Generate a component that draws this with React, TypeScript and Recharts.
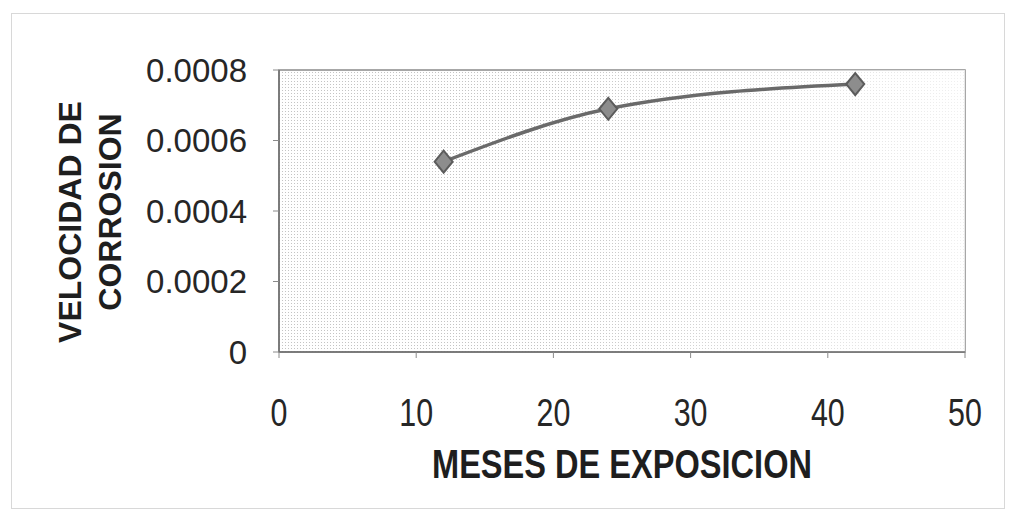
import { LineChart, Line, XAxis, YAxis, ReferenceArea, Label } from "recharts"

const months = [12, 24, 42]
const rates = [0.00054, 0.00069, 0.00076]
const xTicks = [0, 10, 20, 30, 40, 50]
const yTicks = [0, 0.0002, 0.0004, 0.0006, 0.0008]

const data = months.map((m, i) => ({ mes: m, vel: rates[i] }))

const arial = '"Liberation Sans", Arial, sans-serif'

function Diamond(props: any) {
  const { cx, cy } = props
  if (cx == null || cy == null) return null
  return (
    <polygon
      points={`${cx},${cy - 11} ${cx + 9},${cy} ${cx},${cy + 11} ${cx - 9},${cy}`}
      fill="#8d8d8d"
      stroke="#5c5c5c"
      strokeWidth={2}
    />
  )
}

// narrow (Arial Narrow look) tick labels for the x axis
function NarrowTick(props: any) {
  const { x, y, payload } = props
  return (
    <g transform={`translate(${x},${y})`}>
      <text transform="scale(0.78,1)" textAnchor="middle" dy={30} style={{ fontFamily: arial, fontSize: 39, fill: "#262626" }}>
        {payload.value}
      </text>
    </g>
  )
}

function XTitle(props: any) {
  const vb = props.viewBox || {}
  const cx = (vb.x ?? 279) + (vb.width ?? 686) / 2
  return (
    <text
      x={cx}
      y={478}
      textAnchor="middle"
      textLength={380}
      lengthAdjust="spacingAndGlyphs"
      style={{ fontFamily: arial, fontWeight: 700, fontSize: 41, fill: "#1e1e1e" }}
    >
      MESES DE EXPOSICION
    </text>
  )
}

function YTitle(props: any) {
  const vb = props.viewBox || {}
  const cy = (vb.y ?? 70) + (vb.height ?? 282) / 2 + 5
  const style = { fontFamily: arial, fontWeight: 700, fontSize: 32, fill: "#1e1e1e" }
  return (
    <g>
      <text x={81} y={cy + 6} transform={`rotate(-90 81 ${cy + 6})`} textAnchor="middle" style={style}>
        VELOCIDAD DE
      </text>
      <text x={121} y={cy - 4} transform={`rotate(-90 121 ${cy - 4})`} textAnchor="middle" style={style}>
        CORROSION
      </text>
    </g>
  )
}

export default function App() {
  return (
    <div style={{ position: "absolute", left: 0, top: 0, width: 1012, height: 522, background: "#fff" }}>
      <div style={{ position: "absolute", left: 11, top: 13, width: 992, height: 494, border: "1px solid #d8d8d8" }} />
      <LineChart width={1012} height={522} data={data} margin={{ top: 70, right: 47, bottom: 0, left: 0 }}>
        <defs>
          <pattern id="dots" width="3" height="3" patternUnits="userSpaceOnUse">
            <rect width="3" height="3" fill="#ffffff" />
            <rect width="1" height="1" fill="#c4c4c4" />
          </pattern>
          <linearGradient id="fade" x1="0" y1="0" x2="1" y2="0">
            <stop offset="0.4" stopColor="#ffffff" stopOpacity={0} />
            <stop offset="1" stopColor="#ffffff" stopOpacity={0.75} />
          </linearGradient>
        </defs>
        <ReferenceArea x1={0} x2={50} y1={0} y2={0.0008} fill="url(#dots)" fillOpacity={1} stroke="#8a8a8a" strokeWidth={1.5} />
        <ReferenceArea x1={0} x2={50} y1={0} y2={0.0008} fill="url(#fade)" fillOpacity={1} stroke="none" />
        <XAxis
          type="number"
          dataKey="mes"
          domain={[0, 50]}
          ticks={xTicks}
          interval={0}
          height={170}
          tickSize={6}
          tickMargin={38}
          axisLine={{ stroke: "#6e6e6e", strokeWidth: 1.5 }}
          tickLine={{ stroke: "#8a8a8a" }}
          tick={<NarrowTick />}
        >
          <Label content={<XTitle />} />
        </XAxis>
        <YAxis
          type="number"
          domain={[0, 0.0008]}
          ticks={yTicks}
          interval={0}
          width={279}
          tickSize={6}
          tickMargin={26}
          axisLine={{ stroke: "#6e6e6e", strokeWidth: 1.5 }}
          tickLine={{ stroke: "#8a8a8a" }}
          tick={{ fontFamily: arial, fontSize: 33, fill: "#262626" }}
          tickFormatter={(v: number) => (v === 0 ? "0" : v.toFixed(4))}
          label={<YTitle />}
        />
        <Line
          type="monotone"
          dataKey="vel"
          stroke="#6a6a6a"
          strokeWidth={3.5}
          dot={<Diamond />}
          isAnimationActive={false}
        />
      </LineChart>
    </div>
  )
}
